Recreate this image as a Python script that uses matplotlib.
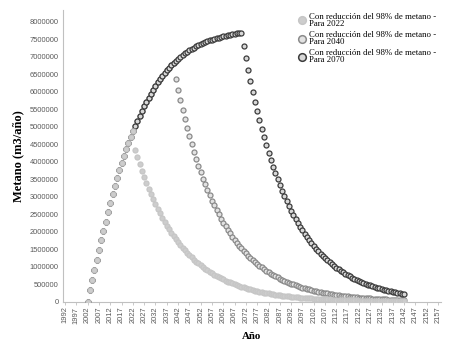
import matplotlib
matplotlib.use("Agg")
import matplotlib.pyplot as plt
from matplotlib.lines import Line2D
import numpy as np

# ---- data (values in thousands of m3/año) ----
anio_inicio = 2002
anio_fin = 2142
# shared growth phase 2002..2070
crecimiento_k = [0, 320, 610, 900, 1190, 1470, 1750, 2020, 2290, 2560, 2820, 3070, 3310,
                 3540, 3760, 3970, 4170, 4360, 4540, 4710, 4870, 5025, 5174, 5317, 5454,
                 5586, 5712, 5833, 5948, 6058, 6163, 6263, 6358, 6448, 6533, 6613, 6688,
                 6758, 6823, 6884, 6941, 6995, 7046, 7094, 7139, 7181, 7221, 7258, 7293,
                 7326, 7357, 7386, 7413, 7439, 7463, 7486, 7507, 7527, 7546, 7564, 7581,
                 7597, 7612, 7626, 7639, 7651, 7663, 7674, 7684]
# decay after 2022 (2023..2142)
descenso_2022_k = [4330, 4122, 3924, 3736, 3557, 3386, 3223, 3069, 2921, 2781, 2648, 2521,
                   2400, 2284, 2175, 2070, 1971, 1876, 1786, 1701, 1619, 1541, 1467, 1397,
                   1330, 1266, 1205, 1147, 1092, 1040, 990, 942, 897, 854, 813, 774, 737,
                   702, 668, 636, 605, 576, 549, 522, 497, 473, 451, 429, 408, 389, 370,
                   352, 335, 319, 304, 289, 276, 262, 250, 238, 226, 215, 205, 195, 186,
                   177, 168, 160, 153, 145, 138, 132, 125, 119, 114, 108, 103, 98, 93, 89,
                   85, 81, 77, 73, 69, 66, 63, 60, 57, 54, 52, 49, 47, 45, 42, 40, 39, 37,
                   35, 33, 32, 30, 29, 27, 26, 25, 24, 22, 21, 20, 19, 18, 18, 17, 16, 15,
                   14, 14, 13, 12]
# decay after 2040 (2041..2142)
descenso_2040_k = [6350, 6045, 5755, 5479, 5216, 4965, 4727, 4500, 4284, 4079, 3883, 3696,
                   3519, 3350, 3189, 3036, 2890, 2752, 2620, 2494, 2374, 2260, 2152, 2048,
                   1950, 1857, 1767, 1683, 1602, 1525, 1452, 1382, 1316, 1253, 1192, 1135,
                   1081, 1029, 979, 932, 888, 845, 804, 766, 729, 694, 661, 629, 599, 570,
                   543, 517, 492, 468, 446, 424, 404, 385, 366, 349, 332, 316, 301, 286,
                   273, 260, 247, 235, 224, 213, 203, 193, 184, 175, 167, 159, 151, 144,
                   137, 130, 124, 118, 112, 107, 102, 97, 92, 88, 84, 80, 76, 72, 69, 65,
                   62, 59, 56, 54, 51, 49, 46, 44]
# decay after 2070 (2071..2142)
descenso_2070_k = [7310, 6959, 6625, 6307, 6004, 5716, 5442, 5181, 4932, 4695, 4470, 4255,
                   4051, 3857, 3671, 3495, 3327, 3168, 3016, 2871, 2733, 2602, 2477, 2358,
                   2245, 2137, 2035, 1937, 1844, 1755, 1671, 1591, 1515, 1442, 1373, 1307,
                   1244, 1184, 1128, 1073, 1022, 973, 926, 882, 839, 799, 761, 724, 689,
                   656, 625, 595, 566, 539, 513, 489, 465, 443, 422, 401, 382, 364, 346,
                   330, 314, 299, 284, 271, 258, 245, 234, 222]

etiquetas = ["Con reducción del 98% de metano -\nPara 2022",
             "Con reducción del 98% de metano -\nPara 2040",
             "Con reducción del 98% de metano -\nPara 2070"]
anios_ticks = list(range(1992, 2158, 5))

serie_2022 = np.array(crecimiento_k[:21] + descenso_2022_k) * 1000
serie_2040 = np.array(crecimiento_k[:39] + descenso_2040_k) * 1000
serie_2070 = np.array(crecimiento_k[:69] + descenso_2070_k) * 1000
anios = np.arange(anio_inicio, anio_fin + 1)

# ---- figure ----
fig = plt.figure(figsize=(4.54, 3.43), dpi=100)
ax = fig.add_axes([63 / 454, 1 - 301.7 / 343, (441 - 63) / 454, (301.7 - 10) / 343])

estilos = [
    dict(mfc="#cdcdcd", mec="#c6c6c6", zorder=5),   # 2022
    dict(mfc="#e2e2e2", mec="#8a8a8a", zorder=3),   # 2040
    dict(mfc="#d8d8d8", mec="#3c3c3c", zorder=4),   # 2070
]
series = [serie_2022, serie_2040, serie_2070]
handles = []
for s, st, lab in zip(series, estilos, etiquetas):
    ax.plot(anios, s, linestyle="none", marker="o", markersize=3.6,
            markeredgewidth=0.9, mfc=st["mfc"], mec=st["mec"], zorder=st["zorder"])
    handles.append(Line2D([], [], linestyle="none", marker="o", markersize=5.5,
                          markeredgewidth=1.1, mfc=st["mfc"], mec=st["mec"]))

ax.set_xlim(1991.1, 2158.3)
ax.set_ylim(0, 8.334e6)
ax.set_yticks(np.arange(0, 8000001, 500000))
ax.set_yticklabels([str(v) for v in range(0, 8000001, 500000)])
ax.set_xticks(anios_ticks)
ax.set_xticklabels([str(a) for a in anios_ticks], rotation=90)

for sp in ["top", "right"]:
    ax.spines[sp].set_visible(False)
for sp in ["left", "bottom"]:
    ax.spines[sp].set_color("#c0c0c0")
    ax.spines[sp].set_linewidth(0.8)
ax.tick_params(axis="y", length=0, pad=3, labelsize=5.4, labelcolor="#595959")
ax.tick_params(axis="x", length=2, width=0.6, color="#c0c0c0", pad=1.5,
               labelsize=5.4, labelcolor="#595959")
for t in ax.get_xticklabels() + ax.get_yticklabels():
    t.set_fontfamily("Liberation Sans")

ax.set_ylabel("Metano (m3/año)", fontfamily="Liberation Serif", fontweight="bold",
              fontsize=9, labelpad=4)
ax.set_xlabel("Año", fontfamily="Liberation Serif", fontweight="bold",
              fontsize=7.8, labelpad=6)

leg = ax.legend(handles, etiquetas, loc="upper left",
                bbox_to_anchor=(298 / 454, 1 - 13 / 343), bbox_transform=fig.transFigure,
                frameon=False, prop=dict(family="Liberation Serif", size=6.3),
                handlelength=0.8, handletextpad=0.45, labelspacing=0.35, borderpad=0,
                borderaxespad=0)
for t in leg.get_texts():
    t.set_linespacing(0.85)

fig.savefig("out.png", dpi=100)
